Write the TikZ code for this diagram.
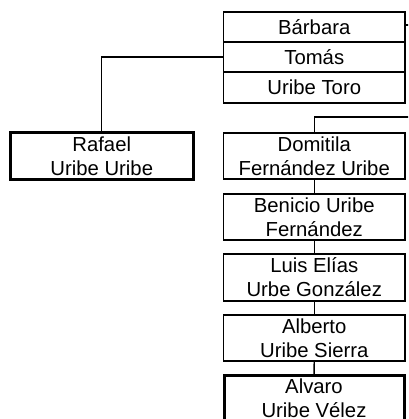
\documentclass[tikz,border=0pt]{standalone}
\usepackage{fontspec}
\setmainfont{Liberation Sans}
\begin{document}
\begin{tikzpicture}[x=1pt,y=-1pt,
  box/.style={draw, line width=1.3pt, rectangle, inner sep=0pt, align=center,
    minimum width=181.5pt, font=\fontsize{20.3}{24}\selectfont},
  thickbox/.style={box, line width=3pt},
  link/.style={draw, line width=1.3pt}]
\useasboundingbox (0,0) rectangle (408,419);
\clip (0,0) rectangle (408,419);
\node[box, minimum height=30pt] (barbara) at (314.25,27) {Bárbara};
\node[box, minimum height=30pt] (tomas) at (314.25,57) {Tomás};
\node[box, minimum height=31pt] (toro) at (314.25,87.5) {Uribe Toro};
\node[thickbox, minimum width=183.5pt, minimum height=46.5pt] (rafael) at (101.75,156.25) {Rafael\\Uribe Uribe};
\node[box, minimum height=46pt] (domitila) at (314.25,156) {Domitila\\Fernández Uribe};
\node[box, minimum height=46pt] (benicio) at (314.25,217) {Benicio Uribe\\Fernández};
\node[box, minimum height=47pt] (luis) at (314.25,277.5) {Luis Elías\\Urbe González};
\node[box, minimum height=46pt] (alberto) at (314.25,338) {Alberto\\Uribe Sierra};
\node[thickbox, minimum width=180pt, minimum height=46pt] (alvaro) at (314,398.5) {Alvaro\\Uribe Vélez};
\coordinate (offb) at (412,25);
\coordinate (offd) at (412,117);
\draw[link] (barbara.east |- offb) -- (offb);
\draw[link] (rafael.north) |- (tomas.west);
\draw[link] (domitila.north) |- (offd);
\draw[link] (domitila) -- (benicio);
\draw[link] (benicio) -- (luis);
\draw[link] (luis) -- (alberto);
\draw[link] (alberto) -- (alvaro);
\end{tikzpicture}
\end{document}
